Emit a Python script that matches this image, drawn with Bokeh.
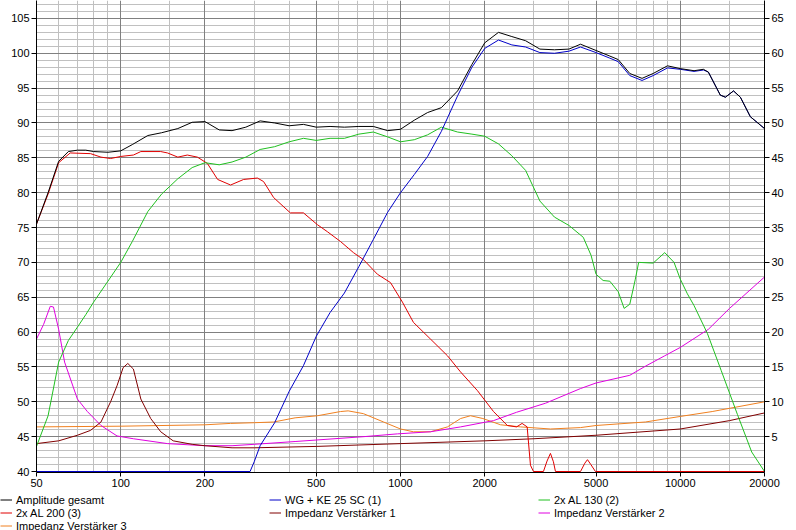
from bokeh.plotting import figure
from bokeh.layouts import column
from bokeh.models import (Range1d, LinearAxis, FixedTicker, Grid, Legend,
                          LegendItem, PrintfTickFormatter)
from bokeh.embed import file_html
from bokeh.resources import INLINE

# ---------------- data ----------------
x_ticks = [50, 100, 200, 500, 1000, 2000, 5000, 10000, 20000]
x_minor = [60, 70, 80, 90, 150, 300, 400, 600, 700, 800, 900, 1500, 3000,
           4000, 6000, 7000, 8000, 9000, 15000]
spl_ticks = list(range(40, 110, 5))
imp_ticks = list(range(5, 70, 5))

# Amplitude gesamt (dB)
f_total = [50, 55, 60, 65, 70, 75, 80, 90, 100, 110, 125, 140, 160, 180, 200,
           225, 250, 280, 315, 355, 400, 450, 500, 560, 630, 710, 800, 900,
           1000, 1120, 1250, 1400, 1600, 1800, 2000, 2240, 2500, 2800, 3150,
           3550, 4000, 4400, 5000, 5600, 6000, 6600, 7300, 8000, 9000, 10000,
           11200, 12100, 12600, 13900, 14500, 15500, 16400, 17800, 20000]
v_total = [75.5, 80.0, 84.5, 85.9, 86.1, 86.1, 85.9, 85.8, 86.0, 86.9, 88.2,
           88.6, 89.2, 90.1, 90.2, 89.0, 88.9, 89.4, 90.3, 90.0, 89.6, 89.8,
           89.4, 89.5, 89.4, 89.5, 89.5, 88.9, 89.1, 90.4, 91.5, 92.2, 94.6,
           98.4, 101.5, 103.0, 102.4, 101.8, 100.6, 100.5, 100.6, 101.3, 100.4,
           99.6, 99.1, 97.1, 96.4, 97.1, 98.2, 97.8, 97.5, 97.7, 97.3, 94.0,
           93.7, 94.6, 93.7, 90.9, 89.2]

# WG + KE 25 SC (1)
f_wg = [50, 290, 300, 315, 355, 400, 450, 500, 560, 630, 710, 800, 900, 1000,
        1120, 1250, 1400, 1600, 1800, 2000, 2240, 2500, 2800, 3150, 3550,
        4000, 4400, 5000, 5600, 6000, 6600, 7300, 8000, 9000, 10000, 11200,
        12100, 12600, 13900, 14500, 15500, 16400, 17800, 20000]
v_wg = [40.0, 40.0, 41.4, 43.7, 47.0, 51.5, 55.2, 59.4, 62.8, 65.6, 69.4,
        73.3, 77.2, 80.0, 82.6, 85.2, 88.8, 93.9, 98.0, 100.7, 101.9, 101.2,
        100.9, 100.1, 100.0, 100.3, 100.9, 100.1, 99.3, 98.8, 96.8, 96.1,
        96.8, 97.9, 97.7, 97.4, 97.6, 97.3, 94.0, 93.7, 94.6, 93.7, 90.9,
        89.2]

# 2x AL 130 (2)
f_al130 = [50, 55, 60, 65, 70, 75, 80, 90, 100, 110, 125, 140, 160, 180, 200,
           225, 250, 280, 315, 355, 400, 450, 500, 560, 630, 710, 800, 900,
           1000, 1120, 1250, 1400, 1600, 1800, 2000, 2240, 2500, 2800, 3150,
           3550, 4000, 4500, 4800, 5000, 5300, 5600, 6000, 6300, 6600, 6900,
           7100, 8000, 8800, 9500, 10000, 10600, 11200, 12500, 14000, 16000,
           18000, 20000]
v_al130 = [43.6, 48.0, 55.7, 58.8, 60.7, 62.5, 64.3, 67.3, 70.0, 73.0, 77.3,
           79.8, 82.0, 83.6, 84.3, 84.0, 84.4, 85.1, 86.2, 86.6, 87.3, 87.8,
           87.5, 87.8, 87.8, 88.4, 88.7, 88.0, 87.3, 87.6, 88.3, 89.4, 88.7,
           88.4, 88.1, 87.0, 85.3, 83.2, 78.8, 76.5, 75.3, 73.6, 71.0, 68.3,
           67.4, 67.3, 65.8, 63.4, 64.0, 67.5, 70.0, 69.9, 71.4, 70.0, 67.6,
           65.5, 63.8, 59.8, 54.5, 48.2, 42.8, 40.0]

# 2x AL 200 (3)
f_al200 = [50, 55, 60, 66, 78, 85, 92, 100, 111, 118, 139, 147, 160, 173, 188,
           204, 222, 247, 275, 308, 324, 352, 404, 450, 505, 548, 610, 679,
           737, 827, 921, 1016, 1112, 1280, 1472, 1638, 1884, 2150, 2410,
           2600, 2720, 2836, 2914, 2987, 3243, 3340, 3435, 3520, 3580, 4400,
           4560, 4660, 4790, 4975, 20000]
v_al200 = [75.5, 79.8, 84.3, 85.7, 85.6, 85.1, 84.9, 85.2, 85.4, 85.9, 85.9,
           85.7, 85.1, 85.4, 85.1, 84.2, 81.9, 81.1, 81.9, 82.1, 81.6, 79.3,
           77.1, 77.1, 75.4, 74.4, 73.0, 71.4, 70.4, 68.3, 67.1, 64.3, 61.4,
           59.0, 56.6, 54.3, 51.6, 48.6, 46.6, 46.4, 46.9, 46.4, 40.9, 40.0,
           40.0, 41.5, 42.6, 41.4, 40.0, 40.0, 41.2, 41.7, 41.0, 40.0, 40.0]

# Impedanz Verstaerker 1 (Ohm)
f_imp1 = [50, 60, 70, 78, 85, 92, 97, 102, 106, 111, 118, 128, 139, 154, 180,
          200, 250, 300, 500, 1000, 2000, 3000, 5000, 10000, 15000, 20000]
v_imp1 = [4.0, 4.4, 5.2, 5.9, 7.1, 10.0, 12.3, 14.9, 15.5, 14.7, 10.4, 7.6,
          5.7, 4.4, 3.9, 3.7, 3.4, 3.4, 3.6, 4.0, 4.4, 4.7, 5.2, 6.1, 7.3, 8.4]

# Impedanz Verstaerker 2 (Ohm)
f_imp2 = [50, 53, 56, 57.5, 60, 63, 70, 76, 85, 97, 111, 147, 200, 250, 300,
          420, 740, 975, 1280, 1640, 2150, 2600, 3300, 4400, 5000, 6600, 7500,
          8800, 10000, 12600, 15000, 20000]
v_imp2 = [19.0, 21.1, 23.7, 23.6, 20.4, 15.7, 10.4, 8.6, 6.6, 5.1, 4.7, 4.0,
          3.7, 3.7, 3.9, 4.3, 5.0, 5.4, 5.7, 6.4, 7.3, 8.5, 9.8, 11.9, 12.7,
          13.8, 15.1, 16.6, 17.8, 20.4, 23.4, 27.9]

# Impedanz Verstaerker 3 (Ohm)
f_imp3 = [50, 100, 200, 247, 300, 352, 420, 505, 610, 650, 737, 870, 1000,
          1112, 1280, 1472, 1640, 1780, 1970, 2280, 2685, 3435, 4400, 5000,
          7500, 10000, 13000, 20000]
v_imp3 = [6.4, 6.5, 6.7, 6.9, 7.0, 7.1, 7.7, 8.0, 8.6, 8.7, 8.3, 7.1, 6.1,
          5.7, 5.7, 6.4, 7.6, 8.0, 7.6, 6.7, 6.4, 6.1, 6.3, 6.6, 7.1, 7.9, 8.6,
          10.0]

names = ["Amplitude gesamt", "WG + KE 25 SC (1)", "2x AL 130 (2)",
         "2x AL 200 (3)", "Impedanz Verstärker 1", "Impedanz Verstärker 2",
         "Impedanz Verstärker 3"]
colors = ["#000000", "#0000c8", "#20c020", "#e00000", "#800000", "#e000e0",
          "#f08020"]

# ---------------- main figure ----------------
FONT = "Liberation Sans"
Y_LO, Y_HI = 40 - 1.0 / 7, 105 + 18.0 / 7   # dB range of the frame
OFFSET = 40                                   # impedance axis = dB - 40

p = figure(width=796, height=491, x_axis_type="log",
           x_range=Range1d(50, 20000), y_range=Range1d(Y_LO, Y_HI),
           output_backend="svg", toolbar_location=None,
           min_border_left=36, min_border_right=32, min_border_top=0,
           min_border_bottom=19)
p.extra_y_ranges = {"imp": Range1d(Y_LO - OFFSET, Y_HI - OFFSET)}
p.outline_line_color = None
p.background_fill_color = "white"
p.border_fill_color = "white"
p.xgrid.grid_line_color = None
p.ygrid.grid_line_color = None

# grids: light first, dark afterwards
p.add_layout(Grid(dimension=0, ticker=FixedTicker(ticks=x_minor),
                  grid_line_color="#c0c0c0", grid_line_width=1))
p.add_layout(Grid(dimension=1,
                  ticker=FixedTicker(ticks=[v for v in range(41, 108) if v % 5]),
                  grid_line_color="#c0c0c0", grid_line_width=1))
p.add_layout(Grid(dimension=0, ticker=FixedTicker(ticks=x_ticks[1:-1]),
                  grid_line_color="#808080", grid_line_width=1))
p.add_layout(Grid(dimension=1, ticker=FixedTicker(ticks=spl_ticks[1:]),
                  grid_line_color="#808080", grid_line_width=1))

# axes
p.xaxis.ticker = FixedTicker(ticks=x_ticks)
p.xaxis.formatter = PrintfTickFormatter(format="%d")
p.yaxis.ticker = FixedTicker(ticks=spl_ticks)
raxis = LinearAxis(y_range_name="imp", ticker=FixedTicker(ticks=imp_ticks))
p.add_layout(raxis, "right")

for ax in [p.xaxis[0], p.yaxis[0], raxis]:
    ax.axis_line_color = "black"
    ax.major_tick_line_color = "black"
    ax.minor_tick_line_color = None
    ax.major_tick_in = 0
    ax.major_tick_out = 5
    ax.major_label_text_font = FONT
    ax.major_label_text_font_size = "11px"
    ax.major_label_text_color = "black"
    ax.major_label_standoff = 2
p.xaxis.major_tick_out = 4

# curves (drawn so that the total response lies on top)
series = [
    (f_total, v_total, "default"),
    (f_wg, v_wg, "default"),
    (f_al130, v_al130, "default"),
    (f_al200, v_al200, "default"),
    (f_imp1, v_imp1, "imp"),
    (f_imp2, v_imp2, "imp"),
    (f_imp3, v_imp3, "imp"),
]
for i in reversed(range(len(series))):
    fx, fy, rng = series[i]
    p.line(fx, fy, line_color=colors[i], line_width=1, y_range_name=rng)

# ---------------- legend strip below the chart ----------------
leg = figure(width=796, height=39, x_range=Range1d(0, 1), y_range=Range1d(0, 1),
             output_backend="svg", toolbar_location=None, min_border=0,
             min_border_left=0, min_border_right=0, min_border_top=0,
             min_border_bottom=0,
             x_axis_location=None, y_axis_location=None)
leg.outline_line_color = None
leg.xgrid.grid_line_color = None
leg.ygrid.grid_line_color = None
# same series, outside the strip's ranges: only their legend samples show
leg_renderers = [leg.line(fx, fy, line_color=c, line_width=1)
                 for (fx, fy, _), c in zip(series, colors)]
items = [LegendItem(label=n, renderers=[r]) for n, r in zip(names, leg_renderers)]
legend = Legend(items=items, location=(0, -2), orientation="horizontal",
                ncols=3, glyph_width=12, glyph_height=13, label_height=13,
                label_width=253, label_standoff=4, spacing=0, padding=0,
                margin=0, background_fill_alpha=0, border_line_color=None,
                label_text_font=FONT, label_text_font_size="11px",
                label_text_color="black")
leg.add_layout(legend)

for fig in (p, leg):
    if "frame_align" in fig.properties():
        fig.frame_align = False

layout = column(p, leg, spacing=0)
open("out.html", "w").write(file_html(layout, INLINE))
